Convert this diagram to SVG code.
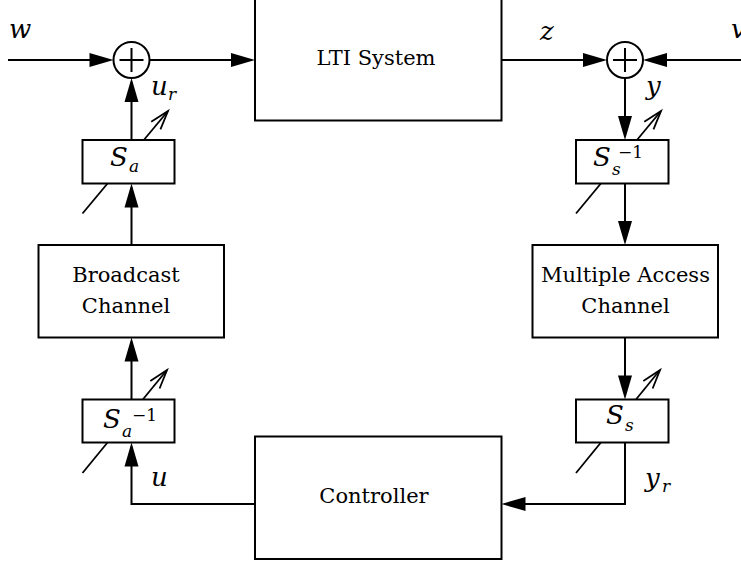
<svg xmlns="http://www.w3.org/2000/svg" width="741" height="565" viewBox="0 0 741 565">
<style>
.box{fill:#fff;stroke:#000;stroke-width:2}
.ln{fill:none;stroke:#000;stroke-width:2}
.arr{marker-end:url(#ah)}
.var{fill:none;stroke:#000;stroke-width:1.8;marker-end:url(#oh)}
.lbl{font-family:'DejaVu Serif',serif;font-size:21px;fill:#000}
.m{font-family:'DejaVu Serif',serif;font-style:italic;font-size:26px;fill:#000}
.s{font-size:17px}
.r{font-style:normal}
</style>
<defs>
<marker id="ah" markerUnits="userSpaceOnUse" markerWidth="24" markerHeight="14" refX="20" refY="7" orient="auto" overflow="visible">
<path d="M0,0 L24,7 L0,14 z" fill="#000"/>
</marker>
<marker id="oh" markerUnits="userSpaceOnUse" markerWidth="30" markerHeight="20" refX="22" refY="10" orient="auto" overflow="visible">
<path d="M3,4 L22,10 L3,16" fill="none" stroke="#000" stroke-width="1.8"/>
</marker>
</defs>

<g id="connectors">
<line class="ln arr" x1="8" y1="60" x2="109.5" y2="60"/>
<line class="ln arr" x1="149.5" y1="60" x2="251" y2="60"/>
<line class="ln arr" x1="501.5" y1="60" x2="603" y2="60"/>
<line class="ln arr" x1="741" y1="60" x2="647" y2="60"/>
<line class="ln arr" x1="625" y1="78" x2="625" y2="136"/>
<line class="ln arr" x1="625" y1="183.5" x2="625" y2="241"/>
<line class="ln arr" x1="625" y1="337.5" x2="625" y2="395.5"/>
<polyline class="ln arr" points="625,442.5 625,504 505.5,504"/>
<polyline class="ln arr" points="255,504 131.5,504 131.5,446.5"/>
<line class="ln arr" x1="131.5" y1="399.5" x2="131.5" y2="341.5"/>
<line class="ln arr" x1="131.5" y1="245" x2="131.5" y2="187.5"/>
<line class="ln arr" x1="131.5" y1="140" x2="131.5" y2="82"/>
</g>

<g id="sum1">
<circle class="box" cx="131.5" cy="60" r="18"/>
<line class="ln" x1="119.5" y1="60" x2="143.5" y2="60"/>
<line class="ln" x1="131.5" y1="48" x2="131.5" y2="72"/>
</g>
<g id="sum2">
<circle class="box" cx="625" cy="60" r="18"/>
<line class="ln" x1="613" y1="60" x2="637" y2="60"/>
<line class="ln" x1="625" y1="48" x2="625" y2="72"/>
</g>

<g id="lti">
<rect class="box" x="255" y="-2" width="246.5" height="122.5"/>
<text class="lbl" x="376" y="65" text-anchor="middle">LTI System</text>
</g>

<g id="controller">
<rect class="box" x="255" y="436.5" width="246.5" height="122.5"/>
<text class="lbl" x="374" y="503" text-anchor="middle">Controller</text>
</g>

<g id="broadcast">
<rect class="box" x="38.5" y="245" width="185.5" height="92.5"/>
<text class="lbl" x="126" y="282" text-anchor="middle">Broadcast</text>
<text class="lbl" x="126" y="313" text-anchor="middle">Channel</text>
</g>

<g id="mac">
<rect class="box" x="532.5" y="245" width="185.5" height="92.5"/>
<text class="lbl" x="625.5" y="282" text-anchor="middle">Multiple Access</text>
<text class="lbl" x="625.5" y="313" text-anchor="middle">Channel</text>
</g>

<g id="Sa">
<line class="var" x1="82.5" y1="213.5" x2="168" y2="111"/>
<rect class="box" x="82.5" y="140" width="92" height="43.5"/>
<text class="m" x="110" y="166">S<tspan class="s" x="129" y="172">a</tspan></text>
</g>

<g id="Sainv">
<line class="var" x1="82.5" y1="473" x2="167" y2="370"/>
<rect class="box" x="82.5" y="399.5" width="92" height="43"/>
<text class="m" x="103" y="428">S<tspan class="s" x="122" y="437">a</tspan><tspan class="s r" x="132" y="421">−1</tspan></text>
</g>

<g id="Ssinv">
<line class="var" x1="576" y1="213.5" x2="661" y2="111"/>
<rect class="box" x="576" y="140" width="92.5" height="43.5"/>
<text class="m" x="593" y="166">S<tspan class="s" x="612" y="175">s</tspan><tspan class="s r" x="618" y="158">−1</tspan></text>
</g>

<g id="Ss">
<line class="var" x1="576" y1="473" x2="660" y2="370"/>
<rect class="box" x="576" y="399.5" width="92.5" height="43"/>
<text class="m" x="606" y="424">S<tspan class="s" x="625" y="431">s</tspan></text>
</g>

<g id="labels">
<text class="m" x="9" y="38">w</text>
<text class="m" x="151" y="95">u<tspan class="s" x="168" y="100">r</tspan></text>
<text class="m" x="540" y="40">z</text>
<text class="m" x="731" y="38">v</text>
<text class="m" x="646" y="95">y</text>
<text class="m" x="151" y="486">u</text>
<text class="m" x="645" y="487">y<tspan class="s" x="662" y="492">r</tspan></text>
</g>
</svg>
